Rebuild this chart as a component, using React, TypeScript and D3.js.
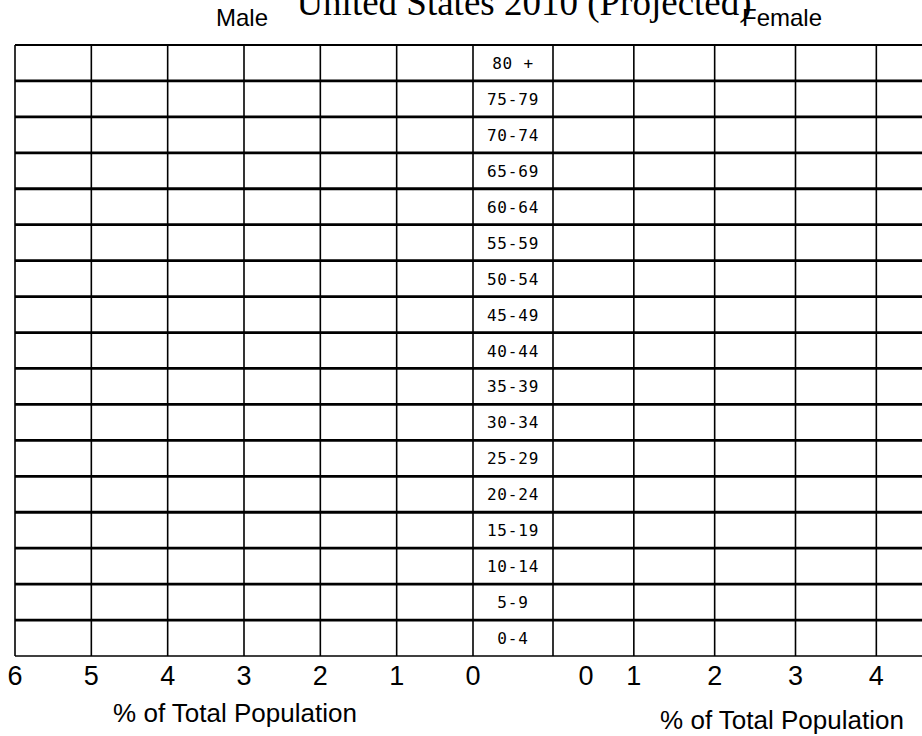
import React from "react";
import * as d3 from "d3";

const ageGroups = [
  "0-4", "5-9", "10-14", "15-19", "20-24", "25-29", "30-34", "35-39",
  "40-44", "45-49", "50-54", "55-59", "60-64", "65-69", "70-74", "75-79", "80 +",
];
const maleTicks = [0, 1, 2, 3, 4, 5, 6];
const femaleTicks = [0, 1, 2, 3, 4];
const title = "United States 2010 (Projected)";
const axisTitle = "% of Total Population";

const W = 922;
const H = 736;
const gridTop = 45;
const gridBottom = 656;
const maleX = d3.scaleLinear().domain([0, 6]).range([473, 15]);
const femaleX = d3.scaleLinear().domain([0, 6]).range([553, 1038]);
const y = d3
  .scaleBand<string>()
  .domain([...ageGroups].reverse())
  .range([gridTop, gridBottom])
  .paddingInner(0)
  .paddingOuter(0);

export default function App() {
  const sans = "'Liberation Sans', Arial, sans-serif";
  return (
    <div style={{ position: "absolute", left: 0, top: 0 }}>
      <svg width={W} height={H} style={{ display: "block", background: "#fff" }}>
        <defs>
          <clipPath id="clip">
            <rect x={0} y={0} width={W} height={H} />
          </clipPath>
        </defs>
        <g clipPath="url(#clip)">
          <text x={524} y={15} textAnchor="middle" fontFamily="'Liberation Serif', 'Times New Roman', serif" fontSize={37} fill="#000">
            {title}
          </text>
          <text x={242} y={26} textAnchor="middle" fontFamily={sans} fontSize={24} fill="#000">Male</text>
          <text x={782} y={26} textAnchor="middle" fontFamily={sans} fontSize={24} fill="#000">Female</text>

          <line x1={maleX(6)} x2={W} y1={gridTop} y2={gridTop} stroke="#000" strokeWidth={2} />
          <line x1={maleX(6)} x2={W} y1={gridBottom} y2={gridBottom} stroke="#000" strokeWidth={1.6} />
          {ageGroups
            .filter((g) => g !== "0-4")
            .map((g) => (
              <line key={"r" + g} x1={maleX(6)} x2={W} y1={y(g)! + y.bandwidth()} y2={y(g)! + y.bandwidth()} stroke="#000" strokeWidth={2.8} />
            ))}
          {maleTicks.map((t) => (
            <line key={"mv" + t} x1={maleX(t)} x2={maleX(t)} y1={gridTop} y2={gridBottom} stroke="#000" strokeWidth={1.6} />
          ))}
          {femaleTicks.map((t) => (
            <line key={"fv" + t} x1={femaleX(t)} x2={femaleX(t)} y1={gridTop} y2={gridBottom} stroke="#000" strokeWidth={1.6} />
          ))}
          {ageGroups.map((g) => (
            <text
              key={"a" + g}
              x={(maleX(0) + femaleX(0)) / 2}
              y={y(g)! + y.bandwidth() / 2 + 6}
              textAnchor="middle"
              fontFamily="'DejaVu Sans Mono', monospace"
              fontSize={16}
              letterSpacing={0.8}
              fill="#000"
              xmlSpace="preserve"
            >
              {g}
            </text>
          ))}
          {maleTicks.map((t) => (
            <text key={"mt" + t} x={maleX(t)} y={685} textAnchor="middle" fontFamily={sans} fontSize={27} fill="#000">
              {t}
            </text>
          ))}
          {femaleTicks.map((t) => (
            <text key={"ft" + t} x={t === 0 ? femaleX(t) + 33 : femaleX(t)} y={685} textAnchor="middle" fontFamily={sans} fontSize={27} fill="#000">
              {t}
            </text>
          ))}
          <text x={235} y={722} textAnchor="middle" fontFamily={sans} fontSize={26} fill="#000">{axisTitle}</text>
          <text x={782} y={729} textAnchor="middle" fontFamily={sans} fontSize={26} fill="#000">{axisTitle}</text>
        </g>
      </svg>
    </div>
  );
}
